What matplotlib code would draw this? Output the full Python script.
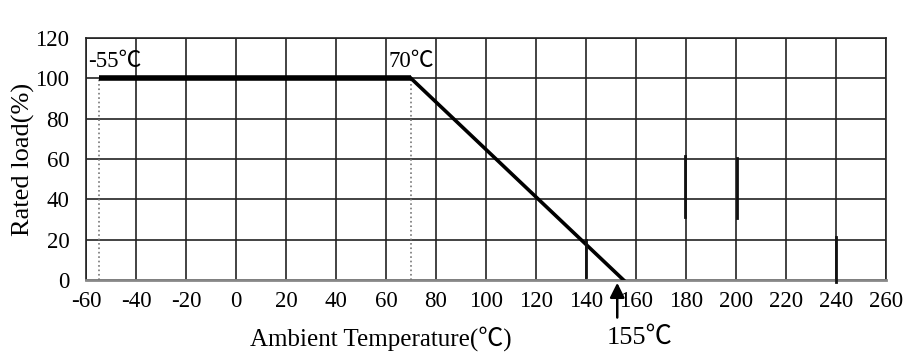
import matplotlib
matplotlib.use("Agg")
import matplotlib.pyplot as plt
import numpy as np

# Data
curve_temp = [-55, 70, 155]
curve_load = [100, 100, 0]
x_ticks = [-60, -40, -20, 0, 20, 40, 60, 80, 100, 120, 140, 160, 180, 200, 220, 240, 260]
y_ticks = [0, 20, 40, 60, 80, 100, 120]
marker_temps = [-55, 70]
stray_x = [139.8, 179.4, 200.4, 240]
stray_y0 = [1.5, 31.3, 30.8, -1]
stray_y1 = [19.9, 61.6, 60.6, 21.4]
arrow_temp = 152.5

serif = ['Liberation Serif', 'Noto Sans CJK SC', 'DejaVu Serif']
plt.rcParams['font.family'] = serif

fig = plt.figure(figsize=(9.17, 3.61), dpi=100)
ax = fig.add_axes([86/917, 81/361, 800/917, 242/361])
ax.set_xlim(-60, 260)
ax.set_ylim(0, 120)
ax.set_xticks(x_ticks)
ax.set_yticks(y_ticks)
ax.set_xticklabels([str(v) for v in x_ticks], fontsize=16.5)
ax.set_yticklabels([str(v) for v in y_ticks], fontsize=16.5)
ax.tick_params(length=0)
ax.tick_params(axis='y', pad=12)
ax.tick_params(axis='x', pad=8)
ax.grid(True, color='#222222', linewidth=1.2)
ax.set_axisbelow(True)
for s in ['top', 'right', 'left']:
    ax.spines[s].set_color('#222222')
    ax.spines[s].set_linewidth(1.2)
ax.spines['bottom'].set_color('#888888')
ax.spines['bottom'].set_linewidth(2)

# dotted verticals
for t in marker_temps:
    ax.plot([t, t], [0, 100], color='#777777', linestyle=':', linewidth=1.2, zorder=3)

# curve
ax.plot(curve_temp[:2], curve_load[:2], color='black', linewidth=4, zorder=4, solid_capstyle='butt')
ax.plot(curve_temp[1:], curve_load[1:], color='black', linewidth=2.6, zorder=4)

# stray marks
for x, a, b in zip(stray_x, stray_y0, stray_y1):
    ax.plot([x, x], [a, b], color='#111111', linewidth=2, zorder=4, clip_on=False)

# annotations
ax.text(-59, 103, '-55℃', fontsize=16.5, ha='left', va='bottom', family=serif)
ax.text(70, 103, '70℃', fontsize=16.5, ha='center', va='bottom', family=serif)
ax.annotate('', xy=(arrow_temp, 0), xytext=(arrow_temp, -20),
            xycoords='data', textcoords='data',
            arrowprops=dict(arrowstyle='-|>', color='black', lw=1.8, mutation_scale=22),
            annotation_clip=False)
ax.text(arrow_temp + 9, -23, '155℃', fontsize=19, ha='center', va='top', family=serif)

ax.set_xlabel('Ambient Temperature(℃)', fontsize=18, family=serif)
ax.xaxis.set_label_coords(0.368, -0.19)
ax.set_ylabel('Rated load(%)', fontsize=19, family=serif)
ax.yaxis.set_label_coords(-0.064, 0.5)

fig.savefig('out.png', dpi=100)
